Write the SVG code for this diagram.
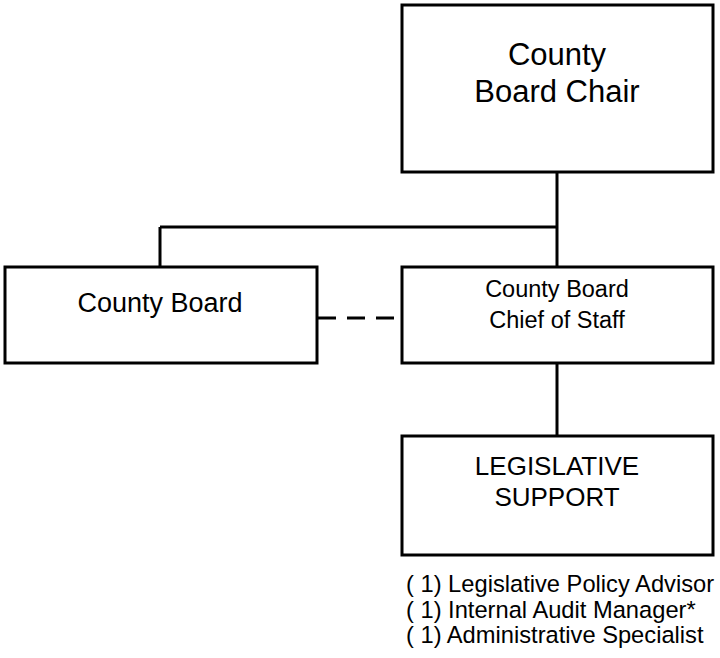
<svg xmlns="http://www.w3.org/2000/svg" width="720" height="658" viewBox="0 0 720 658">
<style>
.box{fill:#fff;stroke:#000;stroke-width:3}
.ln{fill:none;stroke:#000;stroke-width:3}
text{font-family:"Liberation Sans",Arial,sans-serif;fill:#000}
.c{text-anchor:middle}
</style>
<rect width="720" height="658" fill="#fff"/>
<g id="connectors">
<path class="ln" d="M557,172 V267 M160,227 H557 M160,227 V267 M557,363 V436"/>
<path class="ln" d="M318,318 H401" stroke-dasharray="18,11"/>
</g>
<g id="chair">
<rect class="box" x="402" y="5" width="311" height="167"/>
<text class="c" x="557" y="65" font-size="31">County</text>
<text class="c" x="557" y="102" font-size="31">Board Chair</text>
</g>
<g id="board">
<rect class="box" x="5" y="267" width="312" height="96"/>
<text class="c" x="160" y="312" font-size="27">County Board</text>
</g>
<g id="chief">
<rect class="box" x="402" y="267" width="311" height="96"/>
<text class="c" x="557" y="297" font-size="23.5">County Board</text>
<text class="c" x="557" y="328" font-size="23.5">Chief of Staff</text>
</g>
<g id="legislative">
<rect class="box" x="402" y="436" width="311" height="119"/>
<text class="c" x="557" y="475" font-size="26">LEGISLATIVE</text>
<text class="c" x="557" y="506" font-size="26">SUPPORT</text>
</g>
<g id="staff-list">
<text x="406" y="592" font-size="23.7">( 1) Legislative Policy Advisor</text>
<text x="406" y="618" font-size="23.7">( 1) Internal Audit Manager*</text>
<text x="406" y="643" font-size="23.7">( 1) Administrative Specialist</text>
</g>
</svg>
